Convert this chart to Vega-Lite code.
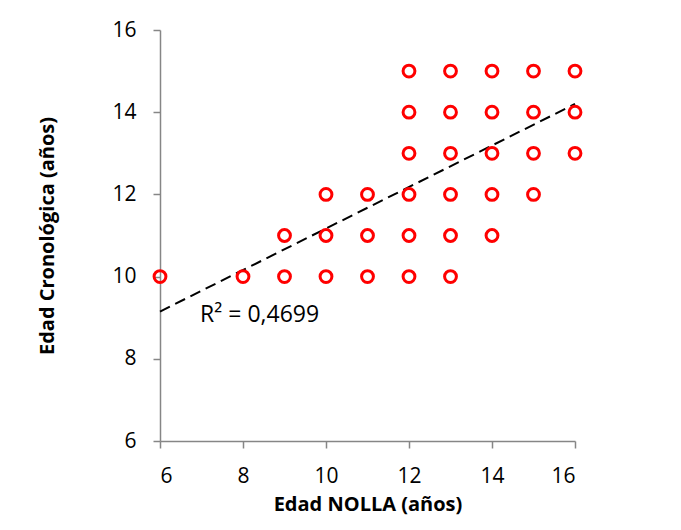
{
  "$schema": "https://vega.github.io/schema/vega-lite/v6.json",
  "width": 415,
  "height": 411,
  "autosize": {"type": "none"},
  "padding": {"left": 160, "top": 30, "right": 106, "bottom": 89},
  "background": "white",
  "config": {
    "view": {"stroke": null},
    "font": "Open Sans",
    "axis": {
      "grid": false,
      "domainColor": "#868686",
      "domainWidth": 1.5,
      "tickColor": "#868686",
      "tickWidth": 1.5,
      "tickSize": 7,
      "labelFont": "Open Sans",
      "labelFontSize": 21,
      "labelColor": "#000000",
      "titleFont": "Open Sans",
      "titleFontSize": 20,
      "titleFontWeight": "bold",
      "titleColor": "#000000"
    }
  },
  "datasets": {
    "points": [
      {"nolla": 6, "edad": 10},
      {"nolla": 8, "edad": 10},
      {"nolla": 9, "edad": 10}, {"nolla": 9, "edad": 11},
      {"nolla": 10, "edad": 10}, {"nolla": 10, "edad": 11}, {"nolla": 10, "edad": 12},
      {"nolla": 11, "edad": 10}, {"nolla": 11, "edad": 11}, {"nolla": 11, "edad": 12},
      {"nolla": 12, "edad": 10}, {"nolla": 12, "edad": 11}, {"nolla": 12, "edad": 12}, {"nolla": 12, "edad": 13}, {"nolla": 12, "edad": 14}, {"nolla": 12, "edad": 15},
      {"nolla": 13, "edad": 10}, {"nolla": 13, "edad": 11}, {"nolla": 13, "edad": 12}, {"nolla": 13, "edad": 13}, {"nolla": 13, "edad": 14}, {"nolla": 13, "edad": 15},
      {"nolla": 14, "edad": 11}, {"nolla": 14, "edad": 12}, {"nolla": 14, "edad": 13}, {"nolla": 14, "edad": 14}, {"nolla": 14, "edad": 15},
      {"nolla": 15, "edad": 12}, {"nolla": 15, "edad": 13}, {"nolla": 15, "edad": 14}, {"nolla": 15, "edad": 15},
      {"nolla": 16, "edad": 13}, {"nolla": 16, "edad": 14}, {"nolla": 16, "edad": 15}
    ],
    "trend": [
      {"nolla": 6, "edad": 9.15},
      {"nolla": 16, "edad": 14.2}
    ],
    "label": [
      {"nolla": 8.4, "edad": 9.07, "text": "R² = 0,4699"}
    ]
  },
  "layer": [
    {
      "data": {"name": "trend"},
      "mark": {"type": "line", "color": "#000000", "strokeWidth": 2, "strokeDash": [11, 6]},
      "encoding": {
        "x": {
          "field": "nolla", "type": "quantitative",
          "scale": {"domain": [6, 16], "nice": false, "zero": false},
          "axis": {"values": [6, 8, 10, 12, 14, 16], "title": "Edad NOLLA (años)", "labelPadding": 17, "titlePadding": 8}
        },
        "y": {
          "field": "edad", "type": "quantitative",
          "scale": {"domain": [6, 16], "nice": false, "zero": false},
          "axis": {"values": [6, 8, 10, 12, 14, 16], "title": "Edad Cronológica (años)", "labelPadding": 17, "titlePadding": 54}
        }
      }
    },
    {
      "data": {"name": "points"},
      "mark": {"type": "point", "shape": "circle", "filled": false, "color": "#FF0000", "strokeWidth": 3, "size": 140, "opacity": 1},
      "encoding": {
        "x": {"field": "nolla", "type": "quantitative"},
        "y": {"field": "edad", "type": "quantitative"}
      }
    },
    {
      "data": {"name": "label"},
      "mark": {"type": "text", "fontSize": 23, "color": "#000000", "font": "Open Sans"},
      "encoding": {
        "x": {"field": "nolla", "type": "quantitative"},
        "y": {"field": "edad", "type": "quantitative"},
        "text": {"field": "text"}
      }
    }
  ]
}
